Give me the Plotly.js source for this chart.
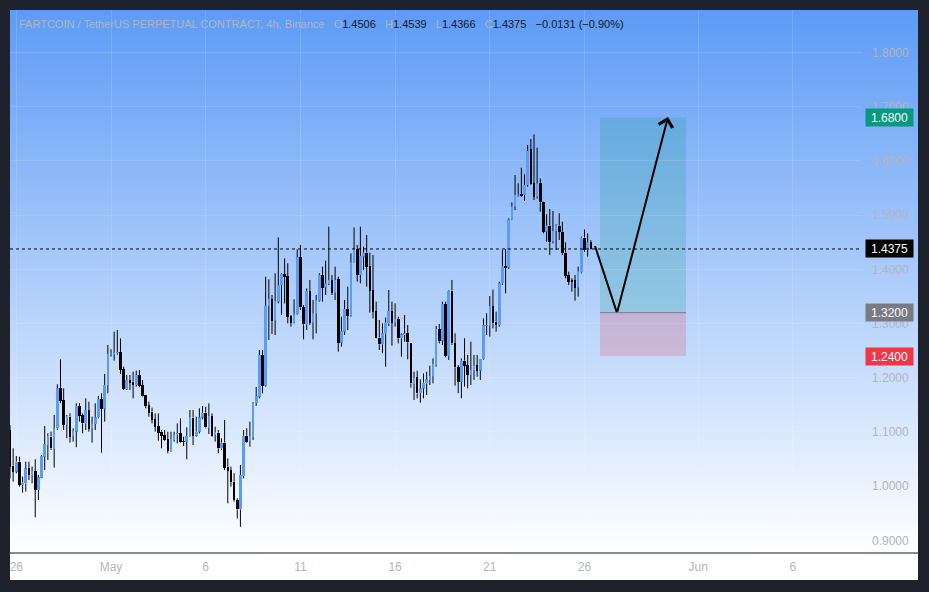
<!DOCTYPE html>
<html><head><meta charset="utf-8">
<script src="https://cdn.plot.ly/plotly-3.0.1.min.js"></script>
<style>
html,body{margin:0;padding:0;background:#1e222d;width:929px;height:592px;overflow:hidden}
#bg{position:absolute;left:10px;top:10px;width:908px;height:543px;background:linear-gradient(to bottom,#5d9bf6 0%,#ffffff 100%)}
#axisbg{position:absolute;left:10px;top:553px;width:908px;height:27px;background:#ffffff}
#chart{position:absolute;left:0;top:0;width:929px;height:592px}
</style></head><body>
<div id="bg"></div><div id="axisbg"></div><div id="chart"></div>
<script>
// ---- data (4h candles, FARTCOIN/USDT perp) ----
const firstCandle = '2025-04-25 16:00';
const candleHours = 4;
const open = [
1.1035,1.0377,1.0267,1.0451,1.0021,1.0051,1.0328,1.0217,1.0279,0.9928,
1.0156,1.0543,1.0759,1.0912,1.0685,1.1066,1.1804,1.1589,1.1128,1.1282,
1.0912,1.1005,1.1478,1.1312,1.1159,1.1405,1.1060,1.1146,1.1269,1.1607,
1.1429,1.1853,1.2425,1.2425,1.2450,1.2475,1.2155,1.1792,1.1958,1.1927,
1.1865,1.2050,1.1865,1.1681,1.1496,1.1373,1.1238,1.1109,1.1004,1.0943,
1.0869,1.0648,1.0850,1.0955,1.0973,1.0832,1.0820,1.0924,1.1263,1.0930,
1.1004,1.1263,1.1355,1.1084,1.1293,1.0943,1.0986,1.0697,1.0801,1.0359,
1.0297,1.0082,0.9743,0.9571,1.0186,1.0930,1.0820,1.0906,1.1533,1.1650,
1.2419,1.1853,1.3323,1.3452,1.3052,1.3403,1.3710,1.3913,1.3876,1.3138,
1.3015,1.3169,1.4221,1.3298,1.2985,1.3600,1.3015,1.3188,1.3421,1.3895,
1.3661,1.3729,1.3803,1.3569,1.3821,1.2646,1.2849,1.3268,1.3144,1.4110,
1.4368,1.3895,1.4233,1.4307,1.4061,1.3618,1.3231,1.2739,1.2616,1.2819,
1.3003,1.3231,1.3015,1.3083,1.2727,1.2788,1.2819,1.2646,1.1896,1.2007,
1.1712,1.1798,1.1896,1.1958,1.2019,1.2234,1.2899,1.2683,1.3360,1.2401,
1.3606,1.2634,1.2191,1.1927,1.2314,1.2234,1.2050,1.2130,1.2228,1.2130,
1.2339,1.2954,1.2966,1.3323,1.3034,1.2972,1.3741,1.4061,1.4030,1.4922,
1.5156,1.5359,1.5389,1.5371,1.5555,1.6220,1.5586,1.5340,1.5586,1.5236,
1.4694,1.4805,1.4510,1.4707,1.4805,1.4694,1.4307,1.3895,1.3803,1.3797,
1.3661,1.3944,1.4584,1.4356,1.4506];
const high = [
1.1128,1.0697,1.0556,1.0543,1.0174,1.0451,1.0451,1.0359,1.0494,1.0205,
1.0574,1.1109,1.0974,1.1005,1.1312,1.1878,1.2339,1.1804,1.1312,1.1343,
1.1066,1.1528,1.1528,1.1343,1.1620,1.1558,1.1282,1.1528,1.1663,1.1712,
1.2069,1.2604,1.2524,1.2850,1.2880,1.2727,1.2204,1.2050,1.2050,1.2111,
1.2130,1.2142,1.1957,1.1681,1.1558,1.1447,1.1342,1.1342,1.1035,1.1035,
1.1004,1.1004,1.1004,1.1158,1.1250,1.0912,1.1084,1.1404,1.1404,1.1281,
1.1435,1.1478,1.1465,1.1527,1.1342,1.1097,1.1035,1.0881,1.1220,1.0512,
1.0359,1.0236,0.9774,1.0389,1.1035,1.1066,1.1189,1.1550,1.1830,1.2511,
1.2511,1.3864,1.3815,1.3526,1.3926,1.4590,1.3926,1.4202,1.4110,1.3157,
1.3446,1.4368,1.4448,1.3341,1.3649,1.3803,1.3434,1.3526,1.3926,1.4049,
1.4159,1.4787,1.3895,1.4049,1.3864,1.3126,1.3434,1.3680,1.4295,1.4774,
1.4448,1.4787,1.4418,1.4633,1.4307,1.4264,1.3403,1.3065,1.3003,1.3108,
1.3618,1.3403,1.3372,1.3126,1.2819,1.3157,1.2972,1.2646,1.2111,1.2130,
1.1970,1.2081,1.2111,1.2222,1.2357,1.2954,1.2991,1.3403,1.3403,1.3618,
1.3803,1.2819,1.2234,1.2357,1.2727,1.2419,1.2665,1.2419,1.2419,1.2339,
1.3095,1.3188,1.3507,1.3624,1.3218,1.3772,1.4356,1.4375,1.4940,1.5236,
1.5740,1.5586,1.5875,1.5752,1.6293,1.6404,1.6490,1.6244,1.5678,1.5248,
1.5014,1.5113,1.5076,1.4830,1.5033,1.4879,1.4498,1.3956,1.3833,1.3895,
1.4049,1.4602,1.4738,1.4664,1.4539];
const low = [
1.0144,1.0082,1.0236,0.9990,0.9879,0.9898,1.0113,1.0051,0.9424,0.9744,
1.0144,1.0298,1.0482,1.0667,1.0341,1.1035,1.1528,1.1035,1.0882,1.0802,
1.0820,1.0716,1.1189,1.0974,1.1035,1.1005,1.0802,1.1035,1.1251,1.0617,
1.1189,1.1712,1.2388,1.2315,1.2425,1.2069,1.1773,1.1773,1.1773,1.1619,
1.1835,1.1822,1.1650,1.1435,1.1281,1.1158,1.1004,1.0838,1.0697,1.0838,
1.0604,1.0635,1.0820,1.0789,1.0801,1.0740,1.0494,1.0912,1.0758,1.0912,
1.0973,1.1232,1.1066,1.0961,1.0912,1.0820,1.0604,1.0666,1.0297,0.9682,
0.9990,0.9713,0.9405,0.9251,1.0143,1.0801,1.0727,1.0850,1.1480,1.1619,
1.1712,1.1835,1.2696,1.2806,1.2788,1.3372,1.3157,1.3372,1.3003,1.2942,
1.3003,1.3157,1.3249,1.2708,1.2880,1.2972,1.2708,1.2819,1.3403,1.3403,
1.3526,1.3710,1.3526,1.3434,1.2480,1.2573,1.2788,1.2880,1.3126,1.4110,
1.3772,1.3741,1.3987,1.3680,1.3200,1.3095,1.2727,1.2511,1.2450,1.2204,
1.2954,1.2591,1.2942,1.2634,1.2388,1.2665,1.2339,1.1816,1.1589,1.1619,
1.1539,1.1619,1.1681,1.1865,1.1896,1.2204,1.2634,1.2604,1.2376,1.2327,
1.2604,1.1853,1.1712,1.1619,1.1835,1.1804,1.1865,1.1958,1.2019,1.1958,
1.2327,1.2788,1.2757,1.2911,1.2849,1.2942,1.3710,1.3557,1.4006,1.4910,
1.5094,1.5340,1.5340,1.5260,1.5525,1.5555,1.5279,1.5309,1.5063,1.4664,
1.4510,1.4264,1.4479,1.4356,1.4541,1.4264,1.3833,1.3710,1.3587,1.3421,
1.3495,1.3926,1.4325,1.4233,1.4366];
const close = [
1.0359,1.0267,1.0451,1.0021,1.0064,1.0328,1.0205,1.0279,0.9928,1.0162,
1.0556,1.0777,1.0912,1.0697,1.1066,1.1804,1.1571,1.1128,1.1282,1.0912,
1.1017,1.1478,1.1300,1.1159,1.1405,1.1060,1.1159,1.1269,1.1607,1.1429,
1.1866,1.2438,1.2450,1.2468,1.2475,1.2143,1.1792,1.1958,1.1909,1.1865,
1.2050,1.1853,1.1668,1.1484,1.1355,1.1220,1.1097,1.0986,1.0930,1.0850,
1.0648,1.0869,1.0955,1.0973,1.0820,1.0814,1.0924,1.1263,1.0930,1.1004,
1.1269,1.1355,1.1084,1.1281,1.0930,1.0986,1.0697,1.0801,1.0340,1.0279,
1.0082,0.9743,0.9571,1.0205,1.0930,1.0820,1.0924,1.1533,1.1660,1.2419,
1.1853,1.3323,1.3452,1.3052,1.3403,1.3710,1.3913,1.3864,1.3126,1.3015,
1.3169,1.4221,1.3298,1.2985,1.3600,1.3015,1.3188,1.3434,1.3895,1.3661,
1.3741,1.3803,1.3569,1.3803,1.2646,1.2862,1.3268,1.3144,1.4122,1.4368,
1.3895,1.4245,1.4307,1.4049,1.3606,1.3218,1.2739,1.2616,1.2819,1.3015,
1.3231,1.3015,1.3083,1.2727,1.2800,1.2819,1.2653,1.1896,1.2007,1.1712,
1.1804,1.1909,1.1970,1.2031,1.2253,1.2899,1.2683,1.3360,1.2401,1.3606,
1.2634,1.2191,1.1927,1.2314,1.2222,1.2050,1.2142,1.2228,1.2130,1.2339,
1.2966,1.2966,1.3323,1.3003,1.2972,1.3741,1.4049,1.4030,1.4922,1.5156,
1.5371,1.5383,1.5359,1.5555,1.6183,1.5568,1.5340,1.5586,1.5236,1.4694,
1.4805,1.4510,1.4707,1.4805,1.4694,1.4295,1.3877,1.3772,1.3772,1.3661,
1.3956,1.4584,1.4356,1.4498,1.4375];

// long position drawing
const positionStart = '2025-05-26 19:40';
const positionEnd = '2025-05-31 08:40';
const entryPrice = 1.32;
const targetPrice = 1.68;
const stopPrice = 1.24;
// projected path drawing
const pathTimes = ['2025-05-26 13:20', '2025-05-27 17:10', '2025-05-30 09:50'];
const pathPrices = [1.443, 1.3195, 1.681];

// axes
const xRange = ['2025-04-25 16:01', '2025-06-09 15:39'];
const yRange = [0.87657, 1.87841];
const dayTicks = ['2025-04-26','2025-05-01','2025-05-06','2025-05-11','2025-05-16','2025-05-21','2025-05-26','2025-06-01','2025-06-06'];
const dayTickText = ['26','May','6','11','16','21','26','Jun','6'];
const priceTicks = [0.9,1.0,1.1,1.2,1.3,1.4,1.5,1.6,1.7,1.8];
const symbolTitle = 'FARTCOIN / TetherUS PERPETUAL CONTRACT, 4h, Binance';

// ---- build ----
const N = close.length;
const pad = n => String(n).padStart(2,'0');
const t0 = Date.UTC(+firstCandle.slice(0,4), +firstCandle.slice(5,7)-1, +firstCandle.slice(8,10), +firstCandle.slice(11,13));
const times = [];
for (let i = 0; i < N; i++) {
  const d = new Date(t0 + i*candleHours*3600000);
  times.push(d.getUTCFullYear()+'-'+pad(d.getUTCMonth()+1)+'-'+pad(d.getUTCDate())+' '+pad(d.getUTCHours())+':00');
}
const UP = '#5a9cf7', DOWN = '#000000';
const wx = [], wy = [];
for (let i = 0; i < N; i++) {
  const top = Math.max(open[i], close[i]), bot = Math.min(open[i], close[i]);
  wx.push(times[i], times[i], null, times[i], times[i], null);
  wy.push(high[i], top, null, bot, low[i], null);
}
const bodyBase = open.map((o,i)=>Math.min(o, close[i]));
const bodyLen = open.map((o,i)=>Math.max(Math.abs(close[i]-o), 0.0012));
const bodyCol = open.map((o,i)=> close[i] >= o ? UP : DOWN);

const FONT = '"Liberation Sans", Arial, sans-serif';
const GRAY = '#b2b5be';

const traces = [
  {type:'scatter', mode:'lines', x:wx, y:wy, line:{color:'#000', width:1}, hoverinfo:'skip', showlegend:false, connectgaps:false},
  {type:'bar', x:times, y:bodyLen, base:bodyBase, width:candleHours*3600000*0.82,
   marker:{color:bodyCol, line:{width:0}}, hoverinfo:'skip', showlegend:false},
  {type:'scatter', mode:'lines', x:pathTimes.slice(0,2), y:pathPrices.slice(0,2),
   line:{color:'#000', width:2}, hoverinfo:'skip', showlegend:false}
];

const last = N-1;
const chg = close[last]-open[last];
const sgn = v => v < 0 ? '\u2212' : '+';
const g = s => `<span style="color:${GRAY}">${s}</span>`;
const k = s => `<span style="color:#131722">${s}</span>`;
const sp = '\u00a0\u00a0\u00a0';
const headerText = g(symbolTitle) + sp + g('O') + k(open[last].toFixed(4)) + sp + g('H') + k(high[last].toFixed(4)) +
  sp + g('L') + k(low[last].toFixed(4)) + sp + g('C') + k(close[last].toFixed(4)) + sp +
  k(sgn(chg)+Math.abs(chg).toFixed(4)+' ('+sgn(chg)+Math.abs(chg/open[last]*100).toFixed(2)+'%)');

const priceTag = (v, bg) => ({xref:'paper', yref:'y', x:1.0317, y:v, xanchor:'center', yanchor:'middle',
  text:v.toFixed(4), showarrow:false, bgcolor:bg, font:{color:'#ffffff', size:12, family:FONT},
  width:44, height:14, borderpad:1.5});

const layout = {
  width:929, height:592,
  margin:{l:10, r:67, t:10, b:39, pad:0},
  paper_bgcolor:'rgba(0,0,0,0)', plot_bgcolor:'rgba(0,0,0,0)',
  showlegend:false, barmode:'overlay', bargap:0,
  font:{family:FONT, color:GRAY, size:12},
  xaxis:{type:'date', range:xRange, tickvals:dayTicks, ticktext:dayTickText, ticks:'',
    showgrid:true, gridcolor:'rgba(255,255,255,0.13)', gridwidth:1, zeroline:false, showline:false,
    tickfont:{color:GRAY, size:12, family:FONT}, ticklabelstandoff:5, fixedrange:true},
  yaxis:{side:'right', range:yRange, tickvals:priceTicks, tickformat:'.4f', ticks:'',
    showgrid:true, gridcolor:'rgba(255,255,255,0.13)', gridwidth:1, zeroline:false, showline:false,
    tickfont:{color:GRAY, size:12, family:FONT}, ticklabelstandoff:9, fixedrange:true},
  shapes:[
    {type:'rect', xref:'x', yref:'y', x0:positionStart, x1:positionEnd, y0:entryPrice, y1:targetPrice,
      fillcolor:'rgba(8,153,129,0.2)', line:{width:0}, layer:'below'},
    {type:'rect', xref:'x', yref:'y', x0:positionStart, x1:positionEnd, y0:stopPrice, y1:entryPrice,
      fillcolor:'rgba(242,54,69,0.2)', line:{width:0}, layer:'below'},
    {type:'line', xref:'x', yref:'y', x0:positionStart, x1:positionEnd, y0:entryPrice, y1:entryPrice,
      line:{color:'#787b86', width:1}},
    {type:'line', xref:'paper', yref:'y', x0:0, x1:1, y0:close[last], y1:close[last],
      line:{color:'#000', width:1, dash:'dot'}},
    {type:'line', xref:'paper', yref:'paper', x0:0, x1:1.0657, y0:0, y1:0,
      line:{color:'#131722', width:1}}
  ],
  annotations:[
    {xref:'paper', yref:'paper', x:0.0082, y:0.9742, xanchor:'left', yanchor:'middle',
      text:headerText, showarrow:false, font:{size:11, family:FONT, color:GRAY}},
    {xref:'x', yref:'y', x:pathTimes[2], y:pathPrices[2], axref:'x', ayref:'y', ax:pathTimes[1], ay:pathPrices[1],
      text:'', showarrow:true, arrowhead:4, arrowsize:1.4, arrowwidth:2, arrowcolor:'#000', standoff:0, startstandoff:0},
    priceTag(targetPrice, '#089981'),
    priceTag(close[last], '#000000'),
    priceTag(entryPrice, '#787b86'),
    priceTag(stopPrice, '#f23645')
  ]
};

Plotly.newPlot('chart', traces, layout, {displayModeBar:false, staticPlot:true});
</script></body></html>
